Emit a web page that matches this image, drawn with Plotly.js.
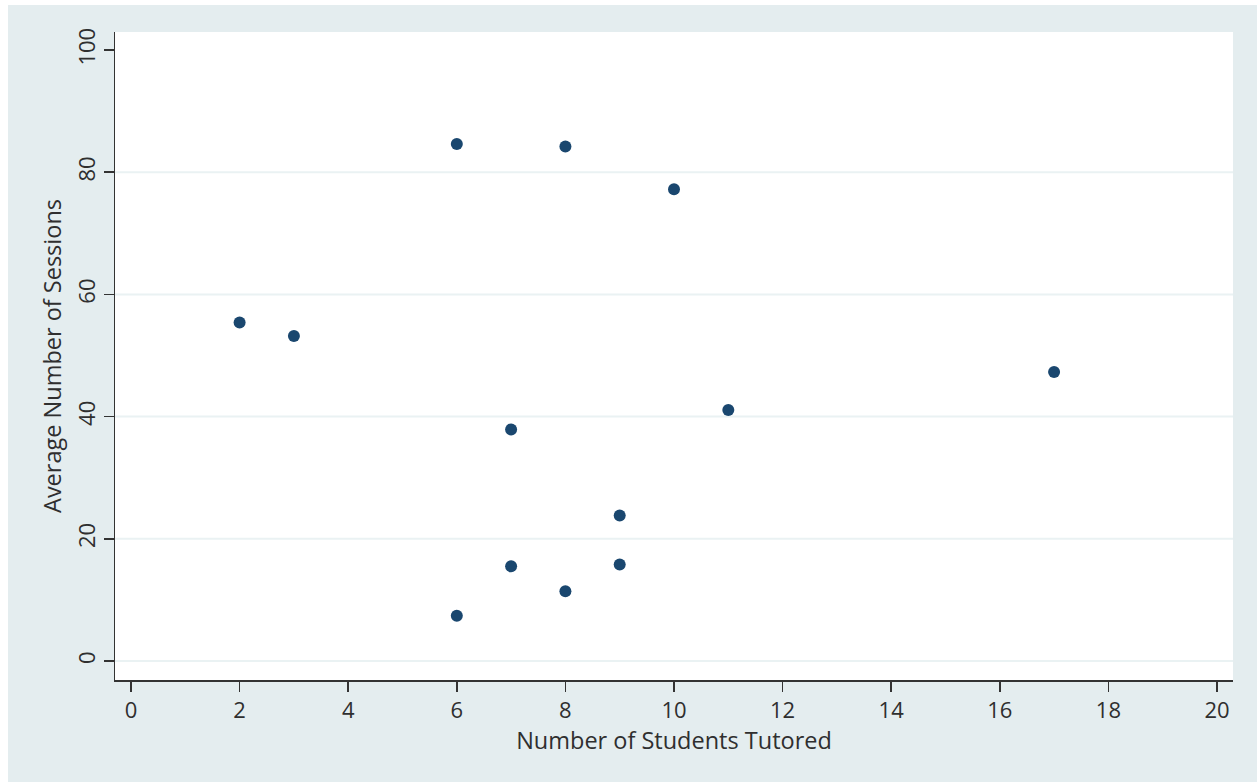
<!DOCTYPE html>
<html>
<head>
<meta charset="utf-8">
<script src="https://cdn.plot.ly/plotly-3.0.1.min.js"></script>
<style>
  html, body { margin: 0; padding: 0; background: #ffffff; }
  #frame { position: absolute; left: 8px; top: 5px; width: 1249px; height: 777px; background: #e4edef; }
  #chart { width: 1249px; height: 777px; }
</style>
</head>
<body>
<div id="frame"><div id="chart"></div></div>
<script>
const studentsTutored = [2, 3, 6, 8, 10, 17, 11, 7, 9, 7, 9, 8, 6];
const avgSessions = [55.4, 53.2, 84.6, 84.2, 77.2, 47.3, 41.1, 37.9, 23.8, 15.5, 15.8, 11.4, 7.4];
const xTicks = [0, 2, 4, 6, 8, 10, 12, 14, 16, 18, 20];
const yTicks = [0, 20, 40, 60, 80, 100];
const yGrid = [0, 20, 40, 60, 80];

const fontFam = '"Open Sans", "Noto Sans", sans-serif';
const textColor = '#2f2f2f';

const shapes = yGrid.map(v => ({
  type: 'line', xref: 'paper', x0: 0, x1: 1, yref: 'y', y0: v, y1: v,
  line: { color: '#eaf2f3', width: 2 }, layer: 'below'
}));

Plotly.newPlot('chart', [{
  type: 'scatter', mode: 'markers',
  x: studentsTutored, y: avgSessions,
  marker: { color: '#1a476f', size: 12, line: { width: 0 } },
  hoverinfo: 'x+y'
}], {
  width: 1249, height: 777,
  paper_bgcolor: 'rgba(0,0,0,0)', plot_bgcolor: '#ffffff',
  margin: { l: 107, r: 24, t: 27, b: 102 },
  showlegend: false,
  font: { family: fontFam, color: textColor, size: 22 },
  xaxis: {
    range: [-0.295, 20.295], tickvals: xTicks, ticktext: xTicks.map(String),
    showgrid: false, zeroline: false, showline: true, linecolor: '#333333', linewidth: 1.5,
    ticks: 'outside', ticklen: 10, tickwidth: 1.5, tickcolor: '#333333',
    tickfont: { size: 22, color: textColor, family: fontFam },
    title: { text: 'Number of Students Tutored', font: { size: 23.5, color: textColor, family: fontFam }, standoff: 0 }
  },
  yaxis: {
    range: [-3.11, 102.95], tickvals: yTicks, ticktext: yTicks.map(String),
    showgrid: false, zeroline: false, showline: true, linecolor: '#333333', linewidth: 1.5,
    ticks: 'outside', ticklen: 10, tickwidth: 1.5, tickcolor: '#333333',
    tickangle: -90,
    tickfont: { size: 22, color: textColor, family: fontFam },
    title: { text: 'Average Number of Sessions', font: { size: 23.5, color: textColor, family: fontFam }, standoff: 2 }
  },
  shapes: shapes
}, { displayModeBar: false, staticPlot: true });
</script>
</body>
</html>
